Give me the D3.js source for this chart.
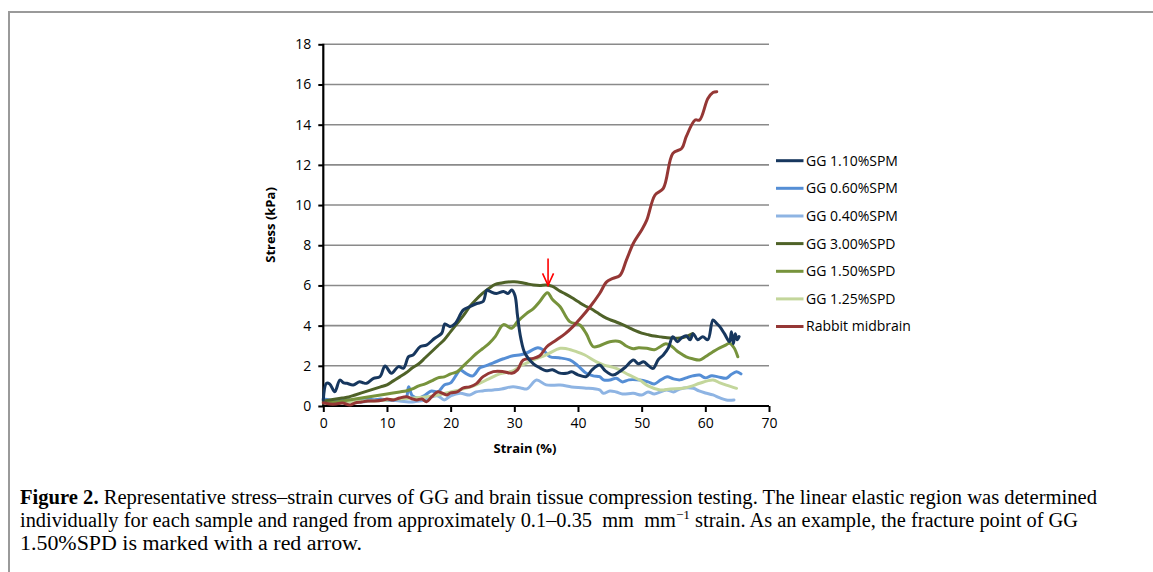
<!DOCTYPE html>
<html><head><meta charset="utf-8">
<script src="https://cdn.jsdelivr.net/npm/d3@7"></script>
<style>
body{margin:0;background:#fff;}
svg{display:block;}
</style></head>
<body>
<svg id="chart" width="1153" height="572"></svg>
<script>
// ---------- DATA ----------
const seriesNames = ["GG 1.10%SPM","GG 0.60%SPM","GG 0.40%SPM","GG 3.00%SPD","GG 1.50%SPD","GG 1.25%SPD","Rabbit midbrain"];
const seriesColors = ["#17375E","#558ED5","#8EB4E3","#4F6228","#77933C","#C3D69B","#953735"];

const gg110Strain = [0,0.5,1,1.8,2.6,3.2,3.7,4.7,5.7,6.3,6.8,7.9,8.9,9.7,10.7,11.8,12.6,13.4,14.1,15.2,16.2,17.5,18.6,19.1,19.9,20.7,22,23,24.1,25.1,25.7,26.2,27.2,28.3,29,29.6,30.1,30.5,31,31.7,33,34,35,36,37,38.2,39,40,41.3,42.2,43.4,44.3,45.5,46.5,47.5,48.7,49.5,50.3,51.1,51.8,52.6,53.4,54.2,54.9,55.6,56.3,57,57.6,58.1,58.8,59.6,60.4,61.2,61.8,62.3,63,63.8,64.1,64.4,64.7,65,65.3];
const gg110Stress = [0.3,1.13,1.1,0.71,1.29,1.15,1.13,1.05,1.21,1.15,1.13,1.38,1.46,1.99,1.63,1.96,1.88,2.46,2.54,2.95,3.03,3.37,3.62,4.08,3.95,4.1,4.78,4.94,5.1,5.2,5.77,5.7,5.6,5.7,5.6,5.77,5.5,4.5,3.4,2.6,2.1,1.9,1.75,1.8,1.65,1.63,1.7,1.55,1.46,1.8,2.04,1.75,1.54,1.7,1.95,2.29,2.1,2.2,2.0,1.87,2.3,2.54,2.9,3.45,3.2,3.4,3.5,3.3,3.6,3.3,3.45,3.3,4.28,4.1,3.94,3.6,3.2,3.7,3.1,3.6,3.3,3.45];

const gg060Strain = [0,1,2,3,4,5,6,7,8,9,10,11,12,13,13.4,14,15,16,17,18,19,20,21,21.5,22.5,23.5,24.6,25.5,26.7,28.3,29.8,31,32,33.7,34.5,35.6,37,38.7,40,41.3,42.4,43.4,44,45,46,47,48,49.7,51,52,53,54,55,56,57,58,59.1,60,61,62,63.3,64,64.9,65.6];
const gg060Stress = [0.35,0.3,0.25,0.3,0.3,0.25,0.3,0.35,0.3,0.35,0.3,0.3,0.35,0.4,0.96,0.5,0.4,0.55,0.75,0.7,1.05,1.15,1.6,1.79,1.6,1.5,1.9,2.0,2.15,2.35,2.5,2.55,2.65,2.9,2.8,2.45,2.4,2.29,2.0,1.63,1.5,1.46,1.3,1.29,1.38,1.2,1.3,1.29,1.2,1.1,1.3,1.45,1.35,1.3,1.4,1.5,1.54,1.4,1.5,1.45,1.38,1.55,1.71,1.6];

const gg040Strain = [0,2,4,6,8,10,12,14,15,16,17,18,19,20,21.5,23,24,25,26.7,28,29.8,31,32,33.5,35,37.2,39,41,43.4,44,45,46,47,48.7,50,51,52,53.9,55,56,58.1,59,60,61.2,62.3,63.3,64.5];
const gg040Stress = [0.3,0.2,0.25,0.2,0.3,0.3,0.25,0.2,0.25,0.3,0.45,0.5,0.3,0.5,0.63,0.55,0.7,0.75,0.8,0.85,0.96,0.9,0.85,1.29,1.05,1.04,0.95,0.9,0.8,0.63,0.75,0.7,0.6,0.63,0.55,0.7,0.6,0.8,0.7,0.85,0.88,0.75,0.65,0.55,0.4,0.3,0.3];

const gg300Strain = [0,1,2,3,4,5,6,7,8,9,10,11,12,13,14,15,16,17,18,19,20,21,22,23,24,25,26,27,28,29,30,31,32,33,34,35,36,37,38,39,40,41,42,43,44,45,46,47,48,49,50,51,52,53,54,55,56,57,58];
const gg300Stress = [0.25,0.3,0.35,0.4,0.45,0.55,0.65,0.75,0.85,0.95,1.05,1.25,1.45,1.65,1.9,2.1,2.4,2.7,3.0,3.3,3.7,4.1,4.5,4.95,5.3,5.6,5.85,6.05,6.12,6.17,6.18,6.15,6.08,6.02,6.0,6.02,5.95,5.75,5.58,5.4,5.2,5.0,4.85,4.65,4.45,4.3,4.18,4.05,3.9,3.75,3.63,3.55,3.48,3.44,3.4,3.38,3.38,3.45,3.6];

const gg150Strain = [0,2,4,6,8,10,12,13,14,15,16,17,18,19,20,21,22,23,24,25,26,27,28.3,29.6,30.5,31.9,33,34,35.2,36,37.2,38.7,40.3,41.3,42.4,43.4,45,46.6,47.5,48.7,49.5,50.8,52,52.9,53.8,54.8,55.5,56.2,57,58,59.1,60,61.2,62,63,63.8,64.5,65.1];
const gg150Stress = [0.15,0.2,0.3,0.4,0.5,0.6,0.7,0.75,0.85,1.0,1.1,1.25,1.4,1.45,1.6,1.7,2.0,2.3,2.6,2.85,3.1,3.45,4.05,3.87,4.2,4.6,4.85,5.2,5.64,5.3,4.94,4.2,4.03,3.6,2.95,3.0,3.2,3.2,3.0,2.85,2.9,2.87,2.8,2.95,3.1,2.95,2.75,2.6,2.45,2.35,2.29,2.45,2.7,2.85,3.0,3.12,2.9,2.45];

const gg125Strain = [0,2,4,6,8,10,12,14,16,18,20,22,24,26,27.7,29.8,31,33,35,37.2,38.2,39.8,41,42.9,44,46,48,49.7,51,52.9,54.5,56.5,58,59.1,61.2,62.3,63.3,64.9];
const gg125Stress = [0.2,0.15,0.2,0.25,0.25,0.3,0.35,0.4,0.45,0.55,0.7,0.85,1.05,1.35,1.6,1.75,2.0,2.29,2.55,2.87,2.85,2.7,2.55,2.2,2.05,1.87,1.55,1.29,1.0,0.8,0.85,0.88,1.0,1.13,1.29,1.15,1.04,0.88];

const rabbitStrain = [0,1,2,3,4.2,5,6,7,8,9.4,10,11,12,13.1,14,14.7,15.5,16.2,17,18,19.4,20,21,22,23,24,25.1,26.7,28.3,29.6,30.5,31.4,33,34,35.1,36.6,38,39.2,40.5,41.9,43.4,44.5,45.5,46.6,47.6,48.7,50,50.8,52.1,53.4,54.9,56.3,57,58.4,59.1,60.4,61.2,61.8];
const rabbitStress = [0.16,0.1,0.1,0.15,0.05,0.15,0.2,0.25,0.25,0.3,0.35,0.3,0.4,0.46,0.35,0.3,0.35,0.21,0.45,0.71,0.55,0.65,0.7,0.9,0.95,1.1,1.46,1.71,1.71,1.63,1.8,2.29,2.37,2.5,2.95,3.28,3.6,3.95,4.4,4.94,5.6,6.18,6.35,6.5,7.26,8.1,8.76,9.25,10.5,10.83,12.57,12.82,13.4,14.23,14.23,15.3,15.6,15.64];

const xTicks = [0,10,20,30,40,50,60,70];
const yTicks = [0,2,4,6,8,10,12,14,16,18];
const fracturePoint = {strain:35.3, stress:5.95};

const xTitle = "Strain (%)";
const yTitle = "Stress (kPa)";

// ---------- BUILD ----------
const seriesList = [
  [gg110Strain, gg110Stress],
  [gg060Strain, gg060Stress],
  [gg040Strain, gg040Stress],
  [gg300Strain, gg300Stress],
  [gg150Strain, gg150Stress],
  [gg125Strain, gg125Stress],
  [rabbitStrain, rabbitStress]
].map((p,i)=>({name:seriesNames[i], color:seriesColors[i], pts:p[0].map((x,j)=>({x, y:p[1][j]}))}));

const svg = d3.select("#chart");
const x = d3.scaleLinear().domain([0,70]).range([323.3,769]);
const y = d3.scaleLinear().domain([0,18]).range([406,44.3]);

// border
svg.append("path").attr("d","M9,572V12H1153").attr("fill","none").attr("stroke","#9a9a9a").attr("stroke-width",2);

// gridlines
svg.append("g").selectAll("line").data(yTicks.filter(d=>d>0)).join("line")
  .attr("x1",x(0)).attr("x2",x(70)).attr("y1",d=>y(d)).attr("y2",d=>y(d))
  .attr("stroke","#8a8a8a").attr("stroke-width",1.6);

const tickFont = "'Open Sans', sans-serif";
const tickSize = 14;

// y axis
const yAxis = svg.append("g").attr("transform",`translate(${x(0)},0)`)
  .call(d3.axisLeft(y).tickValues(yTicks).tickSize(5).tickPadding(7).tickFormat(d3.format("d")));
yAxis.select(".domain").attr("stroke","#000").attr("stroke-width",2.2).attr("d",`M0,${y(18)-0.5}V${y(0)}`);
yAxis.selectAll(".tick line").attr("stroke","#000").attr("stroke-width",2);
yAxis.selectAll(".tick text").attr("font-family",tickFont).attr("font-size",tickSize).attr("fill","#000");

// x axis
const xAxis = svg.append("g").attr("transform",`translate(0,${y(0)})`)
  .call(d3.axisBottom(x).tickValues(xTicks).tickSize(6).tickPadding(6).tickFormat(d3.format("d")));
xAxis.select(".domain").attr("stroke","#000").attr("stroke-width",2.2).attr("d",`M${x(0)-1},0H${x(70)}`);
xAxis.selectAll(".tick line").attr("stroke","#000").attr("stroke-width",2);
xAxis.selectAll(".tick text").attr("font-family",tickFont).attr("font-size",tickSize).attr("fill","#000");

// titles
svg.append("text").attr("x",525).attr("y",453).attr("text-anchor","middle")
  .attr("font-family",tickFont).attr("font-weight","bold").attr("font-size",13).text(xTitle);
svg.append("text").attr("transform","translate(275,225) rotate(-90)").attr("text-anchor","middle")
  .attr("font-family",tickFont).attr("font-weight","bold").attr("font-size",13).text(yTitle);

// lines
const line = d3.line().x(d=>x(d.x)).y(d=>y(d.y)).curve(d3.curveCatmullRom.alpha(0.5));
const drawOrder = [2,1,5,4,3,6,0];
svg.append("g").selectAll("path").data(drawOrder.map(i=>seriesList[i])).join("path")
  .attr("d",d=>line(d.pts)).attr("fill","none").attr("stroke",d=>d.color)
  .attr("stroke-width",3).attr("stroke-linejoin","round").attr("stroke-linecap","round");

// fracture arrow
const ax = x(fracturePoint.strain), ay = y(fracturePoint.stress);
const arrow = svg.append("g").attr("stroke","#ff0000").attr("stroke-width",1.6).attr("fill","none");
arrow.append("line").attr("x1",ax).attr("x2",ax).attr("y1",ay-28).attr("y2",ay-1);
arrow.append("path").attr("d",`M${ax-5.5},${ay-13}L${ax},${ay-1}L${ax+5.5},${ay-13}`);

// legend
const legY = [160.7,188.3,216,243.6,271.3,298.9,326.5];
const leg = svg.append("g").selectAll("g").data(seriesList).join("g")
  .attr("transform",(d,i)=>`translate(776,${legY[i]})`);
leg.append("line").attr("x1",0).attr("x2",27.5).attr("y1",0).attr("y2",0)
  .attr("stroke",d=>d.color).attr("stroke-width",3);
leg.append("text").attr("x",30).attr("y",0).attr("dy","0.35em")
  .attr("font-family",tickFont).attr("font-size",tickSize).attr("fill","#000").text(d=>d.name);

// caption
const capFont = "'Liberation Serif', 'Times New Roman', serif";
const capSize = 20;
const c1 = svg.append("text").attr("x",20).attr("y",504).attr("font-family",capFont).attr("font-size",capSize)
  .attr("textLength",1077).attr("lengthAdjust","spacingAndGlyphs");
c1.append("tspan").attr("font-weight","bold").text("Figure 2.");
c1.append("tspan").text(" Representative stress\u2013strain curves of GG and brain tissue compression testing. The linear elastic region was determined");
const c2 = svg.append("text").attr("x",20).attr("y",527).attr("font-family",capFont).attr("font-size",capSize)
  .attr("textLength",1058).attr("lengthAdjust","spacingAndGlyphs");
c2.append("tspan").text("individually for each sample and ranged from approximately 0.1\u20130.35\u00a0 mm\u00a0 mm");
c2.append("tspan").attr("dy",-8).attr("font-size",13).text("\u22121");
c2.append("tspan").attr("dy",8).text(" strain. As an example, the fracture point of GG");
svg.append("text").attr("x",20).attr("y",550).attr("font-family",capFont).attr("font-size",capSize)
  .attr("textLength",342).attr("lengthAdjust","spacingAndGlyphs")
  .text("1.50%SPD is marked with a red arrow.");
</script>
</body></html>
